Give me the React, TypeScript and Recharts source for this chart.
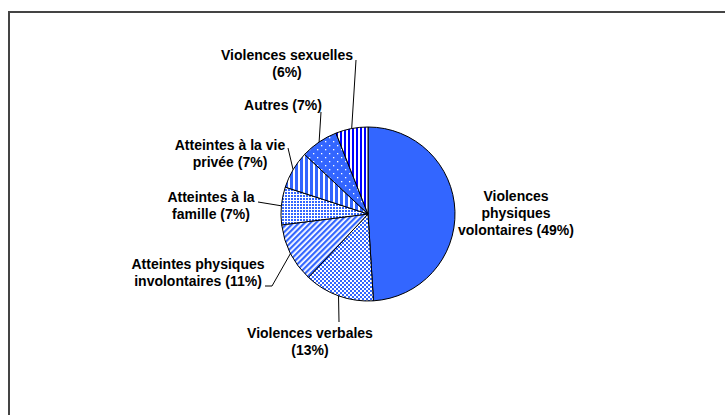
import React from 'react'
import { PieChart, Pie, Cell } from 'recharts'

const CATEGORIES = [
  'Violences physiques volontaires',
  'Violences verbales',
  'Atteintes physiques involontaires',
  'Atteintes à la famille',
  'Atteintes à la vie privée',
  'Autres',
  'Violences sexuelles',
]
const SHARES = [49, 13, 11, 7, 7, 7, 6]
// how each label is broken over lines; the share is added after the last line
const LABEL_LINES = [
  ['Violences', 'physiques', 'volontaires'],
  ['Violences verbales', ''],
  ['Atteintes physiques', 'involontaires'],
  ['Atteintes à la', 'famille'],
  ['Atteintes à la vie', 'privée'],
  ['Autres'],
  ['Violences sexuelles', ''],
]

const FILLS = [
  '#3366ff',
  'url(#pat-verbales)',
  'url(#pat-involontaires)',
  'url(#pat-famille)',
  'url(#pat-vie)',
  'url(#pat-autres)',
  'url(#pat-sexuelles)',
]

// label placement, relative to the pie centre (tx, ty = centre of the text block, first line)
// end = where the leader line stops, elbow = optional extra point
const LABEL_LAYOUT: Array<{ tx: number; ty: number; end?: [number, number]; elbow?: [number, number] }> = [
  { tx: 148, ty: -18 },
  { tx: -58, ty: 119, end: [-29, 108] },
  { tx: -170, ty: 50, end: [-96, 72], elbow: [-103, 72] },
  { tx: -157, ty: -17, end: [-110, -12] },
  { tx: -138, ty: -69, end: [-80, -66] },
  { tx: -85, ty: -109, end: [-47, -102] },
  { tx: -81, ty: -159, end: [-12, -154] },
]

const data = CATEGORIES.map((name, i) => ({ name, value: SHARES[i] }))

const RADIAN = Math.PI / 180
const FONT = 'Arial, "Liberation Sans", sans-serif'

const renderLabel = (props: any) => {
  const { cx, cy, midAngle, outerRadius, index, value } = props
  const layout = LABEL_LAYOUT[index]
  const lines = [...LABEL_LINES[index]]
  const last = lines.length - 1
  lines[last] = (lines[last] ? lines[last] + ' ' : '') + `(${value}%)`
  const ex = cx + outerRadius * Math.cos(-midAngle * RADIAN)
  const ey = cy + outerRadius * Math.sin(-midAngle * RADIAN)
  let pts = ''
  if (layout.end) {
    pts = `${ex},${ey}`
    pts += ` ${cx + layout.end[0]},${cy + layout.end[1]}`
    if (layout.elbow) pts += ` ${cx + layout.elbow[0]},${cy + layout.elbow[1]}`
  }
  return (
    <g key={`lbl-${index}`}>
      {pts && <polyline points={pts} fill="none" stroke="#000" strokeWidth={1} />}
      <text
        x={cx + layout.tx}
        y={cy + layout.ty}
        textAnchor="middle"
        dominantBaseline="central"
        fontFamily={FONT}
        fontWeight="bold"
        fontSize={14}
        fill="#000"
      >
        {lines.map((l, k) => (
          <tspan key={k} x={cx + layout.tx} dy={k === 0 ? 0 : 17}>
            {l}
          </tspan>
        ))}
      </text>
    </g>
  )
}

function Patterns() {
  return (
    <svg width={0} height={0} style={{ position: 'absolute' }}>
      <defs>
        <pattern id="pat-verbales" width={4} height={4} patternUnits="userSpaceOnUse">
          <rect width={4} height={4} fill="#fff" />
          <rect x={0} y={0} width={2} height={2} fill="#3366ff" />
          <rect x={2} y={2} width={2} height={2} fill="#3366ff" />
        </pattern>
        <pattern
          id="pat-involontaires"
          width={4}
          height={4}
          patternUnits="userSpaceOnUse"
          patternTransform="rotate(45)"
        >
          <rect width={4} height={4} fill="#fff" />
          <rect width={2.2} height={4} fill="#3366ff" />
        </pattern>
        <pattern id="pat-famille" width={3} height={3} patternUnits="userSpaceOnUse">
          <rect width={3} height={3} fill="#fff" />
          <rect width={2} height={2} fill="#3366ff" />
        </pattern>
        <pattern id="pat-vie" width={5} height={5} patternUnits="userSpaceOnUse">
          <rect width={5} height={5} fill="#fff" />
          <rect width={3} height={5} fill="#3366ff" />
        </pattern>
        <pattern id="pat-autres" width={8} height={8} patternUnits="userSpaceOnUse">
          <rect width={8} height={8} fill="#3366ff" />
          <rect x={1} y={1} width={1.3} height={1.3} fill="#fff" />
          <rect x={5} y={5} width={1.3} height={1.3} fill="#fff" />
        </pattern>
        <pattern id="pat-sexuelles" width={4} height={4} patternUnits="userSpaceOnUse">
          <rect width={4} height={4} fill="#fff" />
          <rect width={2} height={4} fill="#0000ff" />
        </pattern>
      </defs>
    </svg>
  )
}

export default function App() {
  return (
    <div
      style={{
        position: 'absolute',
        left: 0,
        top: 0,
        width: 725,
        height: 415,
        overflow: 'hidden',
        background: '#fff',
      }}
    >
      <Patterns />
      <div
        style={{
          position: 'absolute',
          left: 8,
          top: 11,
          width: 900,
          height: 600,
          borderLeft: '2px solid #444',
          borderTop: '2px solid #444',
        }}
      />
      <div style={{ position: 'absolute', left: 0, top: 0 }}>
        <PieChart width={725} height={415} margin={{ top: 0, right: 0, bottom: 0, left: 0 }}>
          <Pie
            data={data}
            dataKey="value"
            nameKey="name"
            cx={368}
            cy={214}
            outerRadius={87}
            startAngle={90}
            endAngle={-270}
            stroke="#000"
            strokeWidth={1}
            labelLine={false}
            label={renderLabel}
            isAnimationActive={false}
          >
            {data.map((entry, index) => (
              <Cell key={`cell-${index}`} fill={FILLS[index]} />
            ))}
          </Pie>
        </PieChart>
      </div>
    </div>
  )
}
